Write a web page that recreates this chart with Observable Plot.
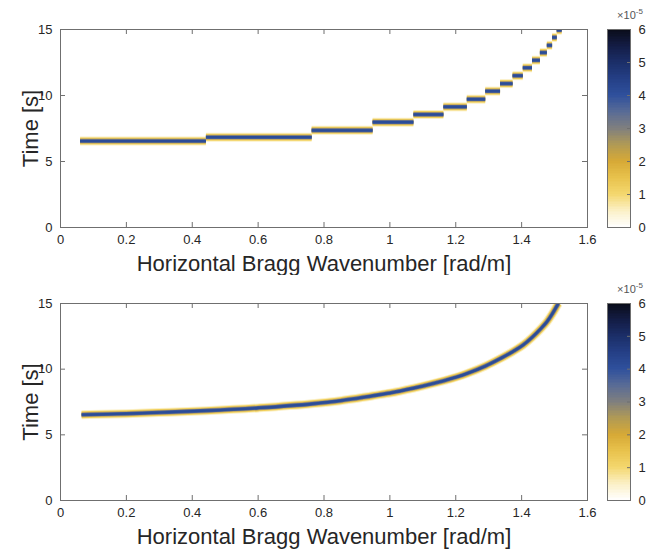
<!DOCTYPE html>
<html>
<head>
<meta charset="utf-8">
<script src="https://cdn.jsdelivr.net/npm/d3@7"></script>
<script src="https://cdn.jsdelivr.net/npm/@observablehq/plot@0.6"></script>
<style>
  html, body { margin: 0; padding: 0; background: #fff; }
  body { width: 671px; height: 549px; overflow: hidden; font-family: "Liberation Sans", Arial, sans-serif; }
  .row { display: flex; flex-direction: row; align-items: flex-start; }
  svg { display: block; }
</style>
</head>
<body>
<div id="chart"></div>
<script>
// ---------- data ----------
const xTicks = [0, 0.2, 0.4, 0.6, 0.8, 1, 1.2, 1.4, 1.6];
const yTicks = [0, 5, 10, 15];
const cbTicks = [0, 1, 2, 3, 4, 5, 6];

// top panel: stepwise arrivals (wavenumber start / end, time)
const stepStart = [0.061, 0.443, 0.764, 0.949, 1.073, 1.164, 1.235, 1.291, 1.336, 1.374, 1.405, 1.433, 1.457, 1.478, 1.494, 1.508];
const stepEnd   = [0.443, 0.764, 0.949, 1.073, 1.164, 1.235, 1.291, 1.336, 1.374, 1.405, 1.433, 1.457, 1.478, 1.494, 1.508, 1.523];
const stepTime  = [6.55, 6.84, 7.36, 7.98, 8.56, 9.14, 9.72, 10.33, 10.9, 11.5, 12.1, 12.67, 13.25, 13.8, 14.4, 14.95];

// bottom panel: smooth arrival curve
const curveK = [0.064, 0.2, 0.3, 0.443, 0.6, 0.764, 0.85, 0.949, 1.0, 1.073, 1.164, 1.235, 1.291, 1.336, 1.374, 1.405, 1.433, 1.457, 1.478, 1.494, 1.508, 1.5115];
const curveT = [6.53, 6.61, 6.70, 6.84, 7.05, 7.36, 7.60, 7.98, 8.18, 8.56, 9.12, 9.68, 10.25, 10.82, 11.35, 11.85, 12.45, 13.05, 13.65, 14.25, 14.85, 15.0];

// colour map (value in 1e-5 units)
const colorStops = [0, 0.5, 1, 1.5, 2, 2.5, 3, 3.5, 4, 4.5, 5, 5.5, 6];
const colorHex = ["#ffffff", "#fbf0c6", "#f4d76e", "#e8c24c", "#d6a936", "#b09a55", "#7f7f7f", "#586b96", "#2f509c", "#243f86", "#1b2e68", "#131c44", "#0a0c18"];

// ---------- styles ----------
const bandLayers = [
  { w: 9,   c: "#fbf0c6" },
  { w: 7,   c: "#f2d05a" },
  { w: 5,   c: "#b8a060" },
  { w: 3.6, c: "#4b6096" },
  { w: 2.2, c: "#2b4c98" }
];
const FONT = "Liberation Sans, Arial, Helvetica, sans-serif";
const TXT = "#262626";
const FRAME = "#6f6f6f";
const W = 600, ML = 60, MR = 13, PW = W - ML - MR;

const steps = stepStart.map((k0, i) => ({ k0, k1: stepEnd[i], t: stepTime[i] }));
const curve = curveK.map((k, i) => ({ k, t: curveT[i] }));

function decor(ph) {
  return [
    Plot.frame({ stroke: FRAME }),
    Plot.tickX(xTicks, { x: d => d, insetTop: ph - 5, stroke: FRAME }),
    Plot.tickX(xTicks, { x: d => d, insetBottom: ph - 5, stroke: FRAME }),
    Plot.tickY(yTicks, { y: d => d, insetRight: PW - 5, stroke: FRAME }),
    Plot.tickY(yTicks, { y: d => d, insetLeft: PW - 5, stroke: FRAME }),
    Plot.axisX(xTicks, { tickSize: 0, tickPadding: 7, tickFormat: d => String(d), fontSize: 13, fill: TXT, label: null }),
    Plot.axisY(yTicks, { tickSize: 0, tickPadding: 8, tickFormat: d => String(d), fontSize: 13, fill: TXT, label: null }),
    Plot.text(["Horizontal Bragg Wavenumber [rad/m]"], { frameAnchor: "bottom", dy: 36, text: d => d, fontSize: 22, fill: TXT, lineAnchor: "middle" }),
    Plot.text(["Time [s]"], { frameAnchor: "left", dx: -30, rotate: -90, text: d => d, fontSize: 22, fill: TXT, textAnchor: "middle", lineAnchor: "middle" })
  ];
}

function mainPlot(height, marginTop, marginBottom, dataMarks) {
  const ph = height - marginTop - marginBottom;
  return Plot.plot({
    width: W, height, marginLeft: ML, marginRight: MR, marginTop, marginBottom,
    style: { fontFamily: FONT, fontSize: "13px", color: TXT, background: "#fff" },
    x: { domain: [0, 1.6] },
    y: { domain: [0, 15] },
    marks: [...dataMarks, ...decor(ph)]
  });
}

function colorbar(height, marginTop, marginBottom) {
  const step = 0.05;
  const ramp = d3.range(0, 6, step);
  const cb = Plot.plot({
    width: 71, height, marginLeft: 7, marginRight: 41, marginTop, marginBottom,
    style: { fontFamily: FONT, fontSize: "13px", color: TXT, background: "#fff" },
    x: { domain: [0, 1], axis: null },
    y: { domain: [0, 6] },
    color: { type: "linear", domain: colorStops, range: colorHex, interpolate: "rgb" },
    marks: [
      Plot.rect(ramp, { x1: 0, x2: 1, y1: d => d, y2: d => Math.min(6, d + step * 1.8), fill: d => d + step / 2, shapeRendering: "crispEdges" }),
      Plot.frame({ stroke: FRAME }),
      Plot.tickY(cbTicks, { y: d => d, insetLeft: 23 - 3, stroke: FRAME }),
      Plot.axisY(cbTicks, { anchor: "right", tickSize: 0, tickPadding: 8, tickFormat: d => String(d), fontSize: 13, fill: TXT, label: null })
    ]
  });
  const svg = d3.select(cb);
  const t = svg.append("text")
    .attr("x", 30).attr("y", marginTop - 10)
    .attr("font-family", FONT).attr("font-size", 11).attr("fill", "#555");
  t.append("tspan").text("×10");
  t.append("tspan").attr("dy", -5).attr("font-size", 8).text("-5");
  return cb;
}

function bandStepMarks() {
  return bandLayers.map(l => Plot.ruleY(steps, { y: "t", x1: "k0", x2: "k1", stroke: l.c, strokeWidth: l.w, strokeLinecap: "butt", clip: true }));
}
function bandCurveMarks() {
  return bandLayers.map(l => Plot.line(curve, { x: "k", y: "t", stroke: l.c, strokeWidth: l.w, curve: "monotone-x", strokeLinecap: "butt", clip: true }));
}

const root = document.getElementById("chart");
const row1 = document.createElement("div"); row1.className = "row";
row1.append(mainPlot(275, 29, 48, bandStepMarks()), colorbar(275, 29, 48));
const row2 = document.createElement("div"); row2.className = "row";
row2.append(mainPlot(274, 28, 49, bandCurveMarks()), colorbar(274, 28, 49));
root.append(row1, row2);
</script>
</body>
</html>
